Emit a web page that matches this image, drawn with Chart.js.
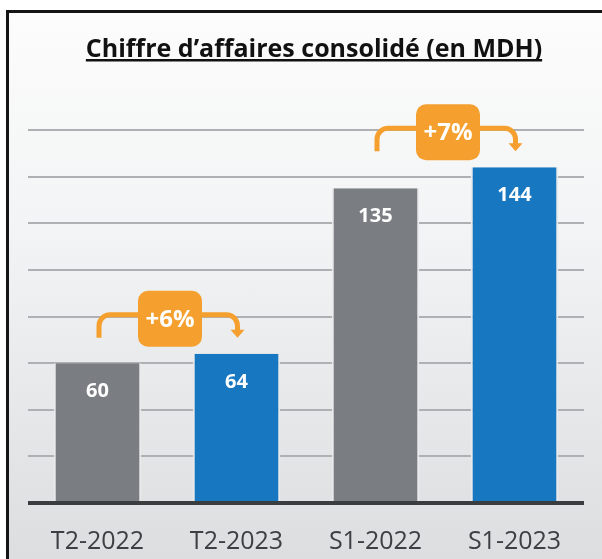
<!DOCTYPE html>
<html lang="fr">
<head>
<meta charset="utf-8">
<title>Chiffre d'affaires consolidé</title>
<script src="https://cdn.jsdelivr.net/npm/chart.js@4/dist/chart.umd.min.js"></script>
<style>
    html, body { margin: 0; padding: 0; background: #ffffff; }
    #wrap { position: relative; width: 602px; height: 559px; overflow: hidden; }
    #frame {
        position: absolute; left: 6px; top: 10px; width: 620px; height: 600px;
        border-left: 3px solid #151515; border-top: 3px solid #151515;
        background: linear-gradient(180deg, #fcfcfc 0%, #f3f4f5 35%, #e4e6e7 70%, #d8dadc 100%);
    }
    #chart { position: absolute; left: 0; top: 0; }
</style>
</head>
<body>
<div id="wrap">
    <div id="frame"></div>
    <canvas id="chart" width="602" height="559"></canvas>
</div>
<script>
// Données du graphique
const categories = ['T2-2022', 'T2-2023', 'S1-2022', 'S1-2023'];
const revenue = [60, 64, 135, 144];
const barColors = ['#7a7d81', '#1778c1', '#7a7d81', '#1778c1'];
const growthLabels = ['+6%', '+7%'];
const growthPairs = [[0, 1], [2, 3]];
const chartTitle = 'Chiffre d\u2019affaires consolidé (en MDH)';

const ORANGE = '#f5a02e';

// Titre souligné
const underlinedTitle = {
    id: 'underlinedTitle',
    afterDraw(chart) {
        const ctx = chart.ctx;
        ctx.save();
        ctx.font = 'bold 25px "Open Sans"';
        ctx.fillStyle = '#111111';
        ctx.textAlign = 'center';
        ctx.textBaseline = 'alphabetic';
        const cx = 314;
        ctx.fillText(chartTitle, cx, 57);
        const w = ctx.measureText(chartTitle).width;
        ctx.fillRect(cx - w / 2, 59, w, 2.5);
        ctx.restore();
    }
};

// Valeurs dans les barres
const valueLabels = {
    id: 'valueLabels',
    afterDatasetsDraw(chart) {
        const ctx = chart.ctx;
        const meta = chart.getDatasetMeta(0);
        ctx.save();
        ctx.font = 'bold 20px "Open Sans"';
        ctx.fillStyle = '#ffffff';
        ctx.textAlign = 'center';
        ctx.textBaseline = 'middle';
        meta.data.forEach((bar, i) => {
            ctx.fillText(String(revenue[i]), bar.x, bar.y + 28);
        });
        ctx.restore();
    }
};

// Flèches de croissance
const growthArrows = {
    id: 'growthArrows',
    afterDatasetsDraw(chart) {
        const ctx = chart.ctx;
        const meta = chart.getDatasetMeta(0);
        growthPairs.forEach((pair, k) => {
            const a = meta.data[pair[0]];
            const b = meta.data[pair[1]];
            const hy = Math.min(a.y, b.y) - 39;
            const x1 = a.x + 1.5;
            const x2 = b.x + 1;
            const r = 11;
            const tip = hy + 23;

            ctx.save();
            ctx.strokeStyle = ORANGE;
            ctx.fillStyle = ORANGE;
            ctx.lineWidth = 5;
            ctx.lineCap = 'butt';
            ctx.beginPath();
            ctx.moveTo(x1, hy + 23);
            ctx.lineTo(x1, hy + r);
            ctx.arcTo(x1, hy, x1 + r, hy, r);
            ctx.lineTo(x2 - r, hy);
            ctx.arcTo(x2, hy, x2, hy + r, r);
            ctx.lineTo(x2, tip - 7);
            ctx.stroke();
            ctx.beginPath();
            ctx.moveTo(x2 - 7, tip - 8);
            ctx.lineTo(x2 + 7, tip - 8);
            ctx.lineTo(x2, tip);
            ctx.closePath();
            ctx.fill();

            const bw = 64, bh = 56;
            const bx = (a.x + b.x) / 2 + 3 - bw / 2;
            const by = hy + 4 - bh / 2;
            ctx.beginPath();
            ctx.roundRect(bx, by, bw, bh, 10);
            ctx.fill();

            ctx.font = 'bold 24px "Open Sans"';
            ctx.fillStyle = '#ffffff';
            ctx.textAlign = 'center';
            ctx.textBaseline = 'middle';
            ctx.fillText(growthLabels[k], bx + bw / 2, by + bh / 2 + 1);
            ctx.restore();
        });
    }
};

document.addEventListener('DOMContentLoaded', function() {
    const ctx = document.getElementById('chart').getContext('2d');

    new Chart(ctx, {
        type: 'bar',
        data: {
            labels: categories,
            datasets: [{
                label: 'CA consolidé (MDH)',
                data: revenue,
                backgroundColor: barColors,
                borderColor: '#e9eaeb',
                borderWidth: { left: 2, right: 2, top: 0, bottom: 0 },
                borderSkipped: false,
                categoryPercentage: 1,
                barPercentage: 0.63
            }]
        },
        options: {
            responsive: false,
            animation: false,
            layout: {
                padding: { left: 28, right: 18, top: 130, bottom: 0 }
            },
            plugins: {
                legend: { display: false },
                tooltip: { enabled: false },
                title: { display: false }
            },
            scales: {
                x: {
                    grid: { display: false, drawTicks: false },
                    border: { display: false },
                    afterFit: function(scale) {
                        scale.height = 56;
                    },
                    ticks: {
                        color: '#3d4043',
                        padding: 24,
                        font: { family: '"Open Sans"', size: 25 }
                    }
                },
                y: {
                    min: 0,
                    max: 160,
                    border: { display: false },
                    grid: {
                        drawTicks: false,
                        color: function(c) {
                            return c.tick.value === 0 ? '#3a3d40' : '#aeb0b3';
                        },
                        lineWidth: function(c) {
                            return c.tick.value === 0 ? 4 : 2;
                        }
                    },
                    ticks: {
                        display: false,
                        stepSize: 20
                    }
                }
            }
        },
        plugins: [underlinedTitle, valueLabels, growthArrows]
    });
});
</script>
</body>
</html>
